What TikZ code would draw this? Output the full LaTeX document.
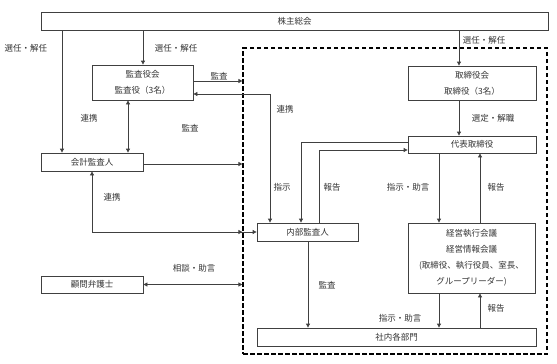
\documentclass[tikz,border=0pt]{standalone}
\usepackage{fontspec}
\setmainfont{Noto Sans CJK JP}
\usetikzlibrary{arrows.meta}
\definecolor{ln}{HTML}{404040}
\definecolor{tx}{HTML}{333333}
\tikzset{
  box/.style={draw=ln, line width=0.8pt, inner sep=0pt, align=center, text=tx, font=\fontsize{8.5}{16}\selectfont},
  lbl/.style={inner sep=0pt, text=tx, font=\fontsize{8.5}{10}\selectfont},
  conn/.style={draw=ln, line width=0.8pt},
  arr/.style={conn, -{Triangle[length=4pt,width=4pt]}},
  arrb/.style={conn, {Triangle[length=4pt,width=4pt]}-{Triangle[length=4pt,width=4pt]}},
  dashbox/.style={draw=black, line width=1.2pt, dash pattern=on 4.5pt off 2.5pt, inner sep=0pt}
}
\begin{document}
\begin{tikzpicture}[x=1pt,y=-1pt]
\useasboundingbox (0,0) rectangle (557,364);
% group
\node[dashbox, minimum width=304pt, minimum height=306pt] (grp) at (395,201) {};
% boxes
\node[box, minimum width=507pt, minimum height=18pt] (gm) at (294.5,21) {株主総会};
\node[box, minimum width=101pt, minimum height=35pt] (kansa) at (142.5,82.5) {監査役会\\監査役（3名）};
\node[box, minimum width=102pt, minimum height=18pt] (kaikei) at (92,162) {会計監査人};
\node[box, minimum width=102pt, minimum height=17pt] (bengo) at (92,284.5) {顧問弁護士};
\node[box, minimum width=128pt, minimum height=34pt] (tori) at (472,83) {取締役会\\取締役（3名）};
\node[box, minimum width=128pt, minimum height=17pt] (daihyo) at (472,144.5) {代表取締役};
\node[box, minimum width=101pt, minimum height=18pt] (naibu) at (307.5,232) {内部監査人};
\node[box, minimum width=127pt, minimum height=70pt] (keiei) at (471.5,258) {経営執行会議\\経営情報会議\\(取締役、執行役員、室長、\\グループリーダー)};
\node[box, minimum width=279pt, minimum height=18pt] (shanai) at (396.5,337) {社内各部門};
% connectors
\draw[arr] (62,0 |- gm.south) -- (62,0 |- kaikei.north);
\node[lbl] (l1) at (26,48) {選任・解任};
\draw[arr] (143,0 |- gm.south) -- (143,0 |- kansa.north);
\node[lbl] (l2) at (176,48) {選任・解任};
\draw[arr] (459,0 |- gm.south) -- (459,0 |- tori.north);
\node[lbl] (l3) at (484,40) {選任・解任};
\draw[arr] (kansa.east |- 0,81) -- (grp.west |- 0,81);
\node[lbl] (l4) at (219,76) {監査};
\draw[arrb] (128,0 |- kansa.south) -- (128,0 |- kaikei.north);
\node[lbl] (l5) at (89,118) {連携};
\draw[arrb] (270,0 |- naibu.north) -- (270,94) -- (kansa.east |- 0,94);
\node[lbl] (l6) at (285,109) {連携};
\draw[arr] (kaikei.east |- 0,164) -- (grp.west |- 0,164);
\node[lbl] (l7) at (190,128) {監査};
\coordinate (c8) at (92,232);
\draw[arrb] (92,0 |- kaikei.south) -- (c8) -- (naibu.west);
\draw[arr] (c8) -- (grp.west |- c8);
\node[lbl] (l8) at (112,197) {連携};
\draw[arrb] (bengo.east) -- (grp.west |- bengo.east);
\node[lbl] (l9) at (194,268) {相談・助言};
\draw[arr] (459,0 |- tori.south) -- (459,0 |- daihyo.north);
\node[lbl] (l10) at (493,118) {選定・解職};
\draw[arr] (daihyo.west |- 0,142) -- (301,142) -- (301,0 |- naibu.north);
\node[lbl] (l11) at (282,187) {指示};
\draw[arr] (319,0 |- naibu.north) -- (319,150) -- (daihyo.west |- 0,150);
\node[lbl] (l12) at (332,187) {報告};
\draw[arr] (439,0 |- daihyo.south) -- (439,0 |- keiei.north);
\node[lbl] (l13) at (408,187) {指示・助言};
\draw[arr] (480,0 |- keiei.north) -- (480,0 |- daihyo.south);
\node[lbl] (l14) at (496,187) {報告};
\draw[arr] (308,0 |- naibu.south) -- (308,0 |- shanai.north);
\node[lbl] (l15) at (327,285) {監査};
\draw[arr] (439,0 |- keiei.south) -- (439,0 |- shanai.north);
\node[lbl] (l16) at (400,318) {指示・助言};
\draw[arr] (480,0 |- shanai.north) -- (480,0 |- keiei.south);
\node[lbl] (l17) at (496,308) {報告};
\end{tikzpicture}
\end{document}
